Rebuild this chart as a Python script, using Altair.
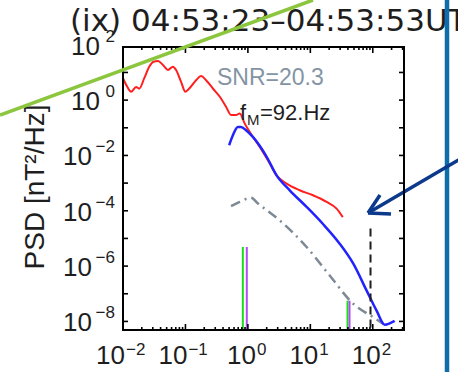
import altair as alt
import pandas as pd

# ---- spectra (frequency in Hz, PSD in nT^2/Hz) ----
red_f = [0.0100, 0.0117, 0.0135, 0.0162, 0.0182, 0.0219, 0.0263, 0.0309, 0.0363,
         0.0437, 0.0525, 0.0631, 0.0708, 0.0851, 0.100, 0.115, 0.148, 0.178,
         0.214, 0.275, 0.355, 0.447, 0.537, 0.646, 0.741, 0.891, 1.07, 1.55,
         2.24, 2.88, 4.17, 6.76, 11.0, 18.2, 26.3, 33.1]
red_psd = [6.17, 3.02, 2.0, 3.0, 2.6, 6.2, 16.2, 24.5, 25.7,
           18.6, 12.3, 16.2, 12.3, 4.57, 2.0, 2.63, 5.25, 7.41,
           5.25, 2.63, 1.32, 0.575, 0.288, 0.288, 0.331, 0.141, 0.0708, 0.0204,
           0.00513, 0.00191, 9.55e-4, 5.50e-4, 3.63e-4, 2.09e-4, 1.20e-4, 5.89e-5]

blue_f = [0.501, 0.575, 0.692, 0.776, 0.933, 1.20, 2.0, 2.88, 4.68, 8.71,
          15.8, 29.5, 49.0, 79.4, 115, 155, 186, 224]
blue_psd = [0.0234, 0.0537, 0.107, 0.107, 0.0813, 0.0468, 0.00891, 0.00191,
            5.50e-4, 1.38e-4, 3.39e-5, 6.46e-6, 1.20e-6, 1.32e-7, 2.45e-8,
            7.6e-9, 8.5e-9, 1.05e-8]

noise_f = [0.537, 0.741, 1.12, 1.45, 3.24, 8.71, 20.4, 49.0, 102, 148]
noise_psd = [1.48e-4, 2.09e-4, 2.95e-4, 1.82e-4, 4.47e-5, 4.9e-6, 4.57e-7,
             4.27e-8, 1.41e-8, 8.1e-9]

# ---- spectral peak markers ----
green_f = [0.83, 39.4]
purple_f = [0.96, 42.4]
marker_top = [4.9e-6, 5.6e-8]

f_m = 92.0
f_m_top = 2.3e-5

snr_text = "SNR=20.3"
title_text = "(ix) 04:53:23\u201304:53:53UT"
y_title = "PSD [nT\u00b2/Hz]"

x_tick_exp = [-2, -1, 0, 1, 2]
y_tick_exp = [2, 0, -2, -4, -6, -8]

# ---- layout ----
W, H = 281, 283
X_DOMAIN = [0.01, 316.2]
Y_DOMAIN = [10 ** -8.31, 10 ** 1.92]
xs = alt.Scale(type="log", domain=X_DOMAIN, nice=False)
ys = alt.Scale(type="log", domain=Y_DOMAIN, nice=False)
FONT = "Liberation Sans"
INK = "#1e1e1e"


def X(field):
    return alt.X(field, scale=xs, axis=None)


def Y(field):
    return alt.Y(field, scale=ys, axis=None)


def curve(fs, ps, color, width, dash=None):
    df = pd.DataFrame({"f": fs, "psd": ps, "i": range(len(fs))})
    kw = dict(color=color, strokeWidth=width, interpolate="monotone")
    if dash:
        kw["strokeDash"] = dash
    return alt.Chart(df).mark_line(**kw).encode(
        x=X("f:Q"), y=Y("psd:Q"), order="i:Q")


def markers(fs, tops, color):
    df = pd.DataFrame({"f": fs, "top": tops})
    return alt.Chart(df).mark_rule(color=color, strokeWidth=2).encode(
        x=X("f:Q"), y=Y("top:Q"), y2=alt.value(H))


def seg(x1, y1, x2, y2, color, width):
    return alt.Chart(pd.DataFrame({"k": [0]})).mark_rule(
        color=color, strokeWidth=width).encode(
        x=alt.value(x1), y=alt.value(y1), x2=alt.value(x2), y2=alt.value(y2))


layers = []

# ---- data ----
layers.append(markers(green_f, marker_top, "#18e018"))
layers.append(markers(purple_f, marker_top, "#b04cf2"))
layers.append(curve(noise_f, noise_psd, "#7d8994", 2.5, [10, 5, 2, 5]))
layers.append(curve(red_f, red_psd, "#ff1e1e", 2))
layers.append(curve(blue_f, blue_psd, "#2222ff", 2.5))

# dashed line at the maximum frequency
layers.append(
    alt.Chart(pd.DataFrame({"f": [f_m], "top": [f_m_top]}))
    .mark_rule(color=INK, strokeWidth=2, strokeDash=[8, 5])
    .encode(x=X("f:Q"), y=Y("top:Q"), y2=alt.value(H))
)


# ---- tick labels written as 10 with a raised exponent ----
def exp_str(e):
    return str(e).replace("-", "\u2212")


def x_labels(exps, base_dx, exp_dx):
    df = pd.DataFrame({"f": [10.0 ** e for e in exps],
                       "b": ["10"] * len(exps),
                       "e": [exp_str(e) for e in exps]})
    b = alt.Chart(df).mark_text(font=FONT, fontSize=26, color=INK, align="right",
                                baseline="alphabetic", dx=base_dx).encode(
        x=X("f:Q"), y=alt.value(H + 34), text="b:N")
    e = alt.Chart(df).mark_text(font=FONT, fontSize=17, color=INK, align="left",
                                baseline="alphabetic", dx=exp_dx).encode(
        x=X("f:Q"), y=alt.value(H + 25), text="e:N")
    return [b, e]


def y_labels(exps, base_x):
    df = pd.DataFrame({"p": [10.0 ** e for e in exps],
                       "b": ["10"] * len(exps),
                       "e": [exp_str(e) for e in exps]})
    b = alt.Chart(df).mark_text(font=FONT, fontSize=26, color=INK, align="right",
                                baseline="alphabetic", dy=10).encode(
        y=Y("p:Q"), x=alt.value(base_x), text="b:N")
    e = alt.Chart(df).mark_text(font=FONT, fontSize=17, color=INK, align="right",
                                baseline="alphabetic", dy=-3).encode(
        y=Y("p:Q"), x=alt.value(-8), text="e:N")
    return [b, e]


layers += x_labels([e for e in x_tick_exp if e < 0], 2, 3)
layers += x_labels([e for e in x_tick_exp if e >= 0], 8, 9)
layers += y_labels([e for e in y_tick_exp if e < 0], -31)
layers += y_labels([e for e in y_tick_exp if e >= 0], -23)


def label(text, x, y, size, color=INK, font=FONT, angle=0, align="left",
          baseline="alphabetic"):
    kw = dict(font=font, fontSize=size, color=color, align=align,
              baseline=baseline)
    if angle:
        kw["angle"] = angle
    return alt.Chart(pd.DataFrame({"t": [text]})).mark_text(**kw).encode(
        x=alt.value(x), y=alt.value(y), text="t:N")


layers.append(label(y_title, -87, 140, 28, angle=270, align="center",
                    baseline="middle"))
layers.append(label(snr_text, 94, 38, 23, color="#8494a4"))
layers.append(label("f", 117, 73, 22))
layers.append(label("M", 124, 78, 15))
layers.append(label(f"={f_m:.0f}.Hz", 137, 73, 22))
layers.append(label(title_text, -53, -16, 31, font="DejaVu Sans"))

# ---- overlaid annotation strokes ----
layers.append(seg(324, -47, 324, 325, "#0e6eaa", 4.5))
layers.append(seg(337, 112, 245, 166, "#0b3a8c", 3.5))
layers.append(seg(245, 166, 257, 148, "#0b3a8c", 3.5))
layers.append(seg(245, 166, 268, 167, "#0b3a8c", 3.5))

# ---- plot frame ----
layers.append(
    alt.Chart(pd.DataFrame({"box": [1]})).mark_rect(
        filled=False, stroke="black", strokeWidth=2).encode(
        x=alt.value(0), x2=alt.value(W), y=alt.value(0), y2=alt.value(H))
)

# ---- inward tick marks on all four sides ----
x_major = [10.0 ** e for e in range(-2, 3)]
x_minor = [m * 10.0 ** e for e in range(-2, 3) for m in range(2, 10)
           if m * 10.0 ** e <= X_DOMAIN[1]]
y_major = [10.0 ** e for e in range(-8, 2)]


def xticks(vals, length, name):
    df = pd.DataFrame({name: vals})
    base = alt.Chart(df).mark_rule(color="black", strokeWidth=1.6)
    x = X(f"{name}:Q")
    return [base.encode(x=x, y=alt.value(H), y2=alt.value(H - length)),
            base.encode(x=x, y=alt.value(0), y2=alt.value(length))]


def yticks(vals, length, name):
    df = pd.DataFrame({name: vals})
    base = alt.Chart(df).mark_rule(color="black", strokeWidth=1.6)
    y = Y(f"{name}:Q")
    return [base.encode(y=y, x=alt.value(0), x2=alt.value(length)),
            base.encode(y=y, x=alt.value(W), x2=alt.value(W - length))]


layers += xticks(x_major, 6, "fmaj") + xticks(x_minor, 3, "fmin")
layers += yticks(y_major, 5, "pmaj")

# green guide line drawn across the top-left corner
layers.append(seg(-123, 68, 190, -47, "#8cc63f", 3.5))

chart = (
    alt.layer(*layers)
    .properties(width=W, height=H,
                autosize=alt.AutoSizeParams(type="none"),
                padding={"left": 123, "top": 47, "right": 54, "bottom": 42},
                background="white")
    .configure_view(stroke=None)
)

chart.save("out.html", embed_options={"renderer": "svg", "actions": False})
